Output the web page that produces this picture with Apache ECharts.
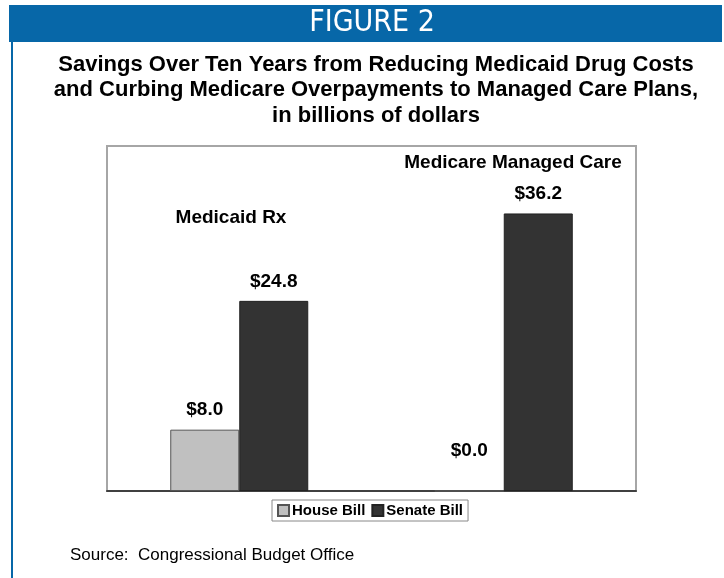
<!DOCTYPE html>
<html><head><meta charset="utf-8">
<script src="https://cdn.jsdelivr.net/npm/echarts@6/dist/echarts.min.js"></script>
<style>html,body{margin:0;padding:0;background:#fff}#c{width:724px;height:578px}</style>
</head><body><div id="c"></div>
<script>
const categories = ['Medicaid Rx', 'Medicare Managed Care'];
const seriesNames = ['House Bill', 'Senate Bill'];
const houseValues = [8.0, 0.0];
const senateValues = [24.8, 36.2];
const titleLines = ['Savings Over Ten Years from Reducing Medicaid Drug Costs', 'and Curbing Medicare Overpayments to Managed Care Plans,', 'in billions of dollars'];

const chart = echarts.init(document.getElementById('c'), null, {renderer: 'canvas'});
const labelFmt = p => '$' + p.value.toFixed(1);
const lblStyle = {show: true, position: 'top', distance: 10, formatter: labelFmt, color: '#000', fontFamily: 'Liberation Sans, Arial, sans-serif', fontWeight: 'bold', fontSize: 19};

chart.setOption({
  animation: false,
  backgroundColor: '#fff',
  title: {
    text: titleLines.join('\n'), left: 371, top: 47, textAlign: 'center',
    textStyle: {fontFamily: 'Liberation Sans, Arial, sans-serif', fontWeight: 'bold', fontSize: 22, lineHeight: 25.5, color: '#000'}
  },
  legend: {
    data: seriesNames, left: 272, top: 500, orient: 'horizontal',
    itemWidth: 11, itemHeight: 11, itemGap: 6, padding: [3, 5, 3, 5],
    borderColor: '#888', borderWidth: 1, icon: 'rect',
    textStyle: {fontFamily: 'Liberation Sans, Arial, sans-serif', fontWeight: 'bold', fontSize: 15, color: '#000', padding: [0, 0, 0, -2]}
  },
  grid: {left: 107, top: 146, width: 529, height: 345, show: true, borderColor: '#a6a6a6', borderWidth: 2, backgroundColor: '#fff'},
  xAxis: {
    type: 'category', data: categories,
    axisLine: {show: true, lineStyle: {color: '#404040', width: 2}},
    axisTick: {show: false}, axisLabel: {show: false}, splitLine: {show: false}
  },
  yAxis: {type: 'value', min: 0, max: 45, show: false, splitLine: {show: false}},
  series: [
    {
      name: seriesNames[0], type: 'bar', barWidth: 69, barGap: '0%',
      itemStyle: {color: '#c0c0c0', borderColor: '#555', borderWidth: 1},
      label: lblStyle,
      data: houseValues.map((v, i) => i === 1 ? {value: v, label: {offset: [0, -20]}} : v)
    },
    {
      name: seriesNames[1], type: 'bar', barWidth: 69,
      itemStyle: {color: '#333333', borderColor: '#222', borderWidth: 1},
      label: lblStyle,
      data: senateValues
    }
  ],
  graphic: [
    {type: 'rect', shape: {x: 9, y: 5, width: 713, height: 37}, style: {fill: '#0767a8'}, z: 100},
    {type: 'rect', shape: {x: 11, y: 42, width: 2, height: 540}, style: {fill: '#0767a8'}, z: 100},
    {type: 'text', x: 372, y: 23, style: {text: 'FIGURE 2', fill: '#fff', font: '30px "Liberation Sans Narrow", "DejaVu Sans Condensed", sans-serif', textAlign: 'center', textVerticalAlign: 'middle'}, z: 101},
    {type: 'text', x: 231, y: 218, style: {text: categories[0], fill: '#000', font: 'bold 19px "Liberation Sans", Arial, sans-serif', textAlign: 'center', textVerticalAlign: 'middle'}, z: 101},
    {type: 'text', x: 513, y: 163, style: {text: categories[1], fill: '#000', font: 'bold 19px "Liberation Sans", Arial, sans-serif', textAlign: 'center', textVerticalAlign: 'middle'}, z: 101},
    {type: 'text', x: 70, y: 555, style: {text: 'Source:  Congressional Budget Office', fill: '#000', font: '17px "Liberation Sans", Arial, sans-serif', textAlign: 'left', textVerticalAlign: 'middle'}, z: 101}
  ]
});
</script></body></html>
